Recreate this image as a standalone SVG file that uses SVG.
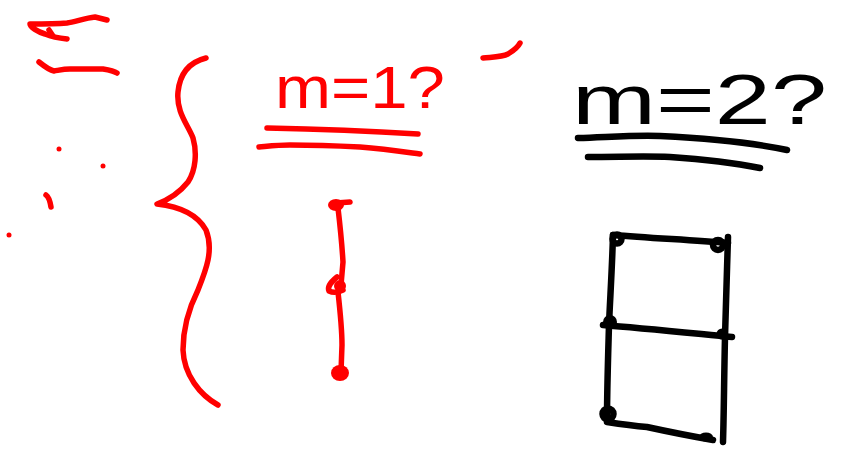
<svg xmlns="http://www.w3.org/2000/svg" width="846" height="452" viewBox="0 0 846 452">
<style>
.r{fill:none;stroke:#ff0000;stroke-width:5.5;stroke-linecap:round;stroke-linejoin:round}
.k{fill:none;stroke:#000;stroke-width:6.5;stroke-linecap:round;stroke-linejoin:round}
.rd{fill:#ff0000}
.kd{fill:#000}
.t{font-family:"Liberation Sans",Arial,sans-serif}
</style>
<rect width="846" height="452" fill="#fff"/>
<g id="scribbles">
<path class="r" d="M107,20 L95,17 C85,18 75,22 67,23 C55,24 42,24 30,24 C30,27 38,32 45,34 C50,36 58,38 67,39"/>
<path class="r" d="M49,30 L53,36"/>
<path class="r" d="M39,62 C44,66 49,70 54,71 C60,70 64,69 70,69 L103,69 C109,70 114,71 117,73"/>
<circle class="rd" cx="59" cy="149" r="2.5"/>
<circle class="rd" cx="103" cy="166" r="2.5"/>
<circle class="rd" cx="9" cy="235" r="2.5"/>
<path class="r" d="M46,195 C49,197 50,201 51,207"/>
<path class="r" d="M483,58 C492,57 502,57 508,54 C513,51 518,47 520,43"/>
</g>
<g id="brace">
<path class="r" d="M206,58 C190,62 180,72 178,92 C176,112 188,125 193,138 C197,152 196,170 188,182 C180,192 168,200 157,204 C175,206 196,212 206,230 C214,250 206,270 198,290 C188,310 183,330 183,350 C184,375 200,395 218,405"/>
</g>
<g id="label-m1">
<text class="t" x="275" y="108" font-size="60" fill="#ff0000" textLength="170" lengthAdjust="spacingAndGlyphs">m=1?</text>
<path class="r" d="M267,128 C320,129 370,131 418,134"/>
<path class="r" d="M259,147 C270,146 278,145 290,145 C320,145 340,146 360,147 C385,149 405,152 420,154"/>
</g>
<g id="label-m2">
<text class="t" x="572" y="124" font-size="70" fill="#000" textLength="255" lengthAdjust="spacingAndGlyphs">m=2?</text>
<path class="k" d="M578,138 C610,137 635,135 660,136 C700,138 750,142 787,150"/>
<path class="k" d="M588,157 C620,157 645,156 670,157 C700,159 735,163 760,168"/>
</g>
<g id="connectors">
<path class="r" d="M338,208 C340,225 342,245 343,262 L341,285"/>
<path class="r" d="M338,292 C340,310 342,330 342,345 L341,372"/>
<path class="k" d="M613,235 C650,238 690,240 728,243"/>
<path class="k" d="M728,237 C727,270 726,300 725,337 C724,380 724,410 723,442"/>
<path class="k" d="M613,235 C612,270 610,300 609,325 C608,360 607,390 607,420"/>
<path class="k" d="M603,325 C640,328 690,333 732,337"/>
<path class="k" d="M607,422 C620,424 635,426 647,427 C670,432 690,436 713,440"/>
</g>
<g id="node-r1"><ellipse class="rd" cx="336" cy="205" rx="8" ry="6"/><path class="r" d="M336,203 L350,202"/></g>
<g id="node-r2"><path class="r" d="M337,277 C332,281 327,287 329,291 C333,293 339,292 343,290"/><circle class="rd" cx="340" cy="286" r="6"/></g>
<g id="node-r3"><ellipse class="rd" cx="340" cy="373" rx="9" ry="8"/></g>
<g id="node-k1"><circle class="k" cx="617" cy="239" r="4.5"/></g>
<g id="node-k2"><circle class="k" cx="718" cy="245" r="5"/></g>
<g id="node-k3"><circle class="kd" cx="610" cy="322" r="7"/></g>
<g id="node-k4"><circle class="kd" cx="722" cy="334" r="5.5"/></g>
<g id="node-k5"><circle class="k" cx="608" cy="414" r="5.5"/></g>
<g id="node-k6"><ellipse class="kd" cx="706" cy="437" rx="7" ry="4.5"/></g>
</svg>
